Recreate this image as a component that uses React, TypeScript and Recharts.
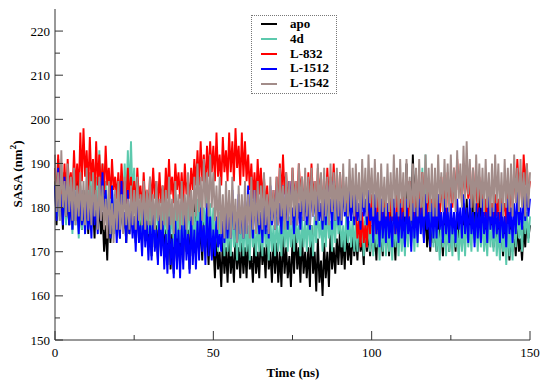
import React from "react";
import { LineChart, Line, XAxis, YAxis } from "recharts";

// SASA (nm^2) sampled every 0.5 ns, 0..150 ns
const apo = [
  186,176,191,178,184,175,188,177,182,176,
  185,175,183,177,187,176,181,175,184,177,
  182,174,186,176,180,173,184,175,181,174,
  179,170,176,168,181,172,178,174,183,175,
  180,173,185,175,179,172,183,174,181,176,
  178,172,182,173,180,171,184,174,179,172,
  177,169,181,171,176,168,180,170,178,169,
  175,167,179,166,174,165,178,168,176,167,
  177,168,180,170,175,166,179,169,181,171,
  178,170,176,168,179,171,175,167,177,169,
  172,164,174,166,170,162,173,165,171,163,
  173,165,170,163,174,166,171,164,172,165,
  171,164,174,166,169,163,173,165,170,164,
  174,167,171,164,175,166,170,163,173,165,
  172,163,170,162,174,165,171,164,169,162,
  173,165,175,166,171,163,174,165,170,164,
  171,162,176,165,170,161,173,163,168,160,
  172,164,170,162,174,166,171,165,173,167,
  175,167,173,166,176,168,172,167,175,169,
  174,168,176,170,173,167,177,170,175,169,
  176,170,174,168,177,171,175,169,178,172,
  176,169,179,171,175,168,178,172,180,173,
  184,175,190,178,186,176,192,180,188,177,
  185,176,181,173,179,171,177,170,178,172,
  176,170,179,172,175,169,178,171,177,170,
  179,172,176,170,180,173,178,171,181,174,
  182,175,179,173,184,176,180,174,183,177,
  180,174,178,172,181,175,177,171,179,173,
  177,171,175,169,178,172,174,168,176,170,
  175,169,177,170,173,168,176,171,178,173,
  176,
];

const d4 = [
  188,178,185,177,190,179,184,176,187,178,
  183,174,186,176,181,173,185,175,182,174,
  184,176,188,178,191,180,187,177,193,181,
  190,179,186,176,183,174,185,175,181,174,
  184,176,187,179,190,181,193,183,195,182,
  189,178,184,175,182,173,185,176,181,174,
  183,174,180,172,184,175,181,173,182,174,
  180,172,183,174,179,171,182,173,180,172,
  181,173,178,171,183,174,180,172,179,171,
  182,174,185,176,180,173,184,175,181,173,
  180,171,177,170,179,172,176,169,178,170,
  177,169,180,171,176,168,179,170,177,169,
  178,170,176,168,179,171,175,169,177,170,
  176,169,179,171,175,168,178,170,176,169,
  178,170,176,169,179,171,177,170,178,171,
  177,170,179,172,176,169,178,171,177,170,
  179,171,176,169,178,172,180,173,177,170,
  178,171,180,173,177,170,179,172,181,174,
  178,171,176,170,179,172,177,171,178,170,
  177,170,179,172,176,169,178,171,177,170,
  176,169,178,171,175,168,177,170,176,169,
  177,170,175,168,178,171,176,169,177,170,
  176,169,178,171,180,172,177,170,179,171,
  184,174,189,176,192,178,186,173,180,171,
  177,170,175,168,178,171,176,169,177,170,
  176,169,178,171,175,168,177,170,176,169,
  178,171,176,170,179,172,177,170,178,171,
  177,170,175,169,178,171,176,170,177,169,
  175,168,177,170,174,167,176,169,175,168,
  178,171,180,173,177,170,182,174,179,172,
  178,
];

const l832 = [
  189,181,192,183,186,180,190,182,191,184,
  188,182,193,184,190,183,197,186,198,187,
  193,184,196,186,191,183,195,185,192,184,
  190,183,194,185,189,182,191,184,187,182,
  188,181,190,183,186,180,189,182,187,181,
  186,180,189,182,185,179,188,181,184,180,
  187,181,189,182,186,180,188,181,185,180,
  189,182,191,183,187,181,190,184,188,182,
  188,181,190,183,186,182,189,184,191,185,
  193,185,195,186,192,184,194,187,195,188,
  194,186,197,187,192,185,196,188,193,186,
  197,188,195,186,198,189,194,185,197,187,
  195,186,192,184,190,182,188,181,191,183,
  189,182,187,180,185,179,182,178,184,179,
  187,180,190,182,192,183,188,181,186,180,
  189,182,186,180,190,183,187,181,185,180,
  188,181,190,182,186,179,189,183,187,180,
  186,180,189,182,187,181,190,183,185,179,
  188,181,186,180,184,178,187,180,183,177,
  180,173,177,171,179,172,176,171,181,174,
  183,176,180,174,185,177,182,175,184,176,
  181,175,184,177,180,174,183,176,182,175,
  185,178,182,176,186,179,183,177,187,180,
  184,178,188,180,183,177,186,179,182,176,
  185,178,183,177,187,180,184,178,188,181,
  186,180,189,182,191,184,187,181,190,183,
  188,182,186,180,189,183,185,179,187,181,
  184,178,182,176,185,179,181,177,183,178,
  182,177,185,179,181,176,184,178,186,180,
  189,182,191,184,188,181,192,185,190,183,
  186,
];

const l1512 = [
  185,177,189,179,183,176,187,178,184,176,
  182,175,185,177,180,174,184,176,181,174,
  183,175,180,173,184,176,181,174,186,177,
  188,178,184,175,182,173,185,176,180,172,
  181,173,186,175,179,172,184,174,180,173,
  178,170,182,172,176,169,180,171,177,168,
  176,168,180,170,175,167,179,169,177,166,
  174,165,178,167,173,164,177,166,175,164,
  176,166,179,168,174,165,178,167,175,166,
  177,168,180,170,176,167,181,169,178,168,
  175,169,178,171,174,170,177,172,180,173,
  181,173,184,175,179,172,183,174,180,173,
  182,174,185,176,180,173,184,175,181,174,
  179,172,183,174,180,173,185,176,182,175,
  184,176,181,174,185,177,182,175,186,178,
  180,174,184,176,181,175,185,177,183,176,
  182,175,186,178,183,176,184,177,181,175,
  183,176,185,178,182,175,186,177,184,176,
  182,176,185,178,181,175,184,177,183,176,
  184,177,181,175,185,178,182,176,184,177,
  180,172,183,174,179,171,182,173,180,172,
  181,173,178,171,182,174,179,172,181,173,
  179,171,182,174,178,170,181,173,180,172,
  182,174,180,172,183,175,179,171,181,173,
  180,173,183,175,179,172,182,174,180,172,
  181,174,179,172,182,175,180,173,183,174,
  180,172,182,174,179,171,181,173,180,172,
  182,174,179,172,183,175,180,173,181,174,
  179,172,181,173,178,171,182,174,180,172,
  181,174,184,176,180,175,183,177,185,178,
  182,
];

const l1542 = [
  192,179,188,177,193,180,186,178,190,179,
  187,177,189,176,185,178,188,177,186,176,
  189,177,185,176,188,178,184,175,187,177,
  185,175,182,173,186,174,181,172,184,175,
  186,175,183,174,187,176,182,175,185,176,
  184,175,187,177,183,176,186,175,184,176,
  187,176,183,175,186,177,182,175,185,176,
  184,175,187,176,182,174,186,177,183,175,
  186,176,183,175,188,177,184,176,187,178,
  190,179,187,177,191,180,188,178,192,180,
  188,177,185,175,187,174,183,173,186,175,
  184,173,187,175,182,172,185,174,183,173,
  186,174,183,173,187,175,184,174,186,176,
  185,175,188,176,183,174,187,177,184,175,
  187,176,189,178,185,175,188,177,186,176,
  189,178,186,176,190,179,187,177,189,178,
  187,176,189,178,186,177,190,179,188,177,
  189,178,187,176,190,179,188,177,189,178,
  188,177,190,179,187,178,191,180,189,178,
  190,179,188,177,191,180,189,178,192,181,
  189,178,191,180,188,177,190,179,187,178,
  190,179,188,178,192,180,189,178,191,180,
  188,178,191,180,187,177,190,179,189,178,
  191,180,188,178,192,181,189,179,190,178,
  189,178,192,181,188,179,191,180,190,179,
  192,181,189,179,193,182,190,180,194,182,
  195,183,191,180,189,179,192,181,190,180,
  189,179,191,180,188,178,190,179,192,181,
  190,179,188,178,191,180,189,179,190,178,
  192,181,189,179,191,180,188,178,190,180,
  188,
];

const series = [
  { key: "apo", name: "apo", color: "#000000", values: apo },
  { key: "d4", name: "4d", color: "#5cc9ad", values: d4 },
  { key: "l832", name: "L-832", color: "#ff0000", values: l832 },
  { key: "l1512", name: "L-1512", color: "#0000ff", values: l1512 },
  { key: "l1542", name: "L-1542", color: "#a28c89", values: l1542 },
];

const xTicks = [0, 25, 50, 75, 100, 125, 150];
const yTicks = [150, 155, 160, 165, 170, 175, 180, 185, 190, 195, 200, 205, 210, 215, 220];

const data = apo.map((_, i) => {
  const row: Record<string, number> = { t: i * 0.5 };
  series.forEach((s) => (row[s.key] = s.values[i]));
  return row;
});

const font = "'Times New Roman', Times, 'Liberation Serif', 'DejaVu Serif', serif";
const axisColor = "#333";

const BottomTick = ({ x, y, payload }: any) => {
  const major = payload.value % 50 === 0;
  return (
    <g>
      <line x1={x} y1={y} x2={x} y2={y - (major ? 9 : 5)} stroke={axisColor} />
      {major && (
        <text x={x} y={y + 17} textAnchor="middle" style={{ fontFamily: font }} fontSize={13} fill="#000">
          {payload.value}
        </text>
      )}
    </g>
  );
};

const TopTick = ({ x, y, payload }: any) => {
  const major = payload.value % 50 === 0;
  return <line x1={x} y1={y} x2={x} y2={y + (major ? 9 : 5)} stroke={axisColor} />;
};

const LeftTick = ({ x, y, payload }: any) => {
  const major = payload.value % 10 === 0;
  return (
    <g>
      <line x1={x} y1={y} x2={x + (major ? 8 : 5)} y2={y} stroke={axisColor} />
      {major && (
        <text x={x - 5} y={y} dy="0.35em" textAnchor="end" style={{ fontFamily: font }} fontSize={13} fill="#000">
          {payload.value}
        </text>
      )}
    </g>
  );
};

const RightTick = ({ x, y, payload }: any) => {
  const major = payload.value % 10 === 0;
  return <line x1={x} y1={y} x2={x - (major ? 9 : 5)} y2={y} stroke={axisColor} />;
};

export default function App() {
  return (
    <div style={{ position: "absolute", left: 0, top: 0, width: 550, height: 384, background: "#fff", fontFamily: font }}>
      <LineChart width={550} height={384} data={data} margin={{ top: 9, right: 20, bottom: 14, left: 8 }}>
        <XAxis
          xAxisId="bottom"
          dataKey="t"
          type="number"
          domain={[0, 150]}
          ticks={xTicks}
          height={30}
          tickSize={0}
          tickMargin={0}
          tickLine={false}
          axisLine={{ stroke: axisColor }}
          tick={<BottomTick />}
          interval={0}
        />
        <XAxis
          xAxisId="top"
          orientation="top"
          dataKey="t"
          type="number"
          domain={[0, 150]}
          ticks={xTicks}
          height={0}
          tickSize={0}
          tickMargin={0}
          tickLine={false}
          axisLine={{ stroke: axisColor }}
          tick={<TopTick />}
          interval={0}
        />
        <YAxis
          yAxisId="left"
          type="number"
          domain={[150, 225]}
          ticks={yTicks}
          width={47}
          tickSize={0}
          tickMargin={0}
          tickLine={false}
          axisLine={{ stroke: axisColor }}
          tick={<LeftTick />}
          interval={0}
          allowDataOverflow
        />
        <YAxis
          yAxisId="right"
          orientation="right"
          type="number"
          domain={[150, 225]}
          ticks={yTicks}
          width={0}
          tickSize={0}
          tickMargin={0}
          tickLine={false}
          axisLine={{ stroke: axisColor }}
          tick={<RightTick />}
          interval={0}
          allowDataOverflow
        />
        {series.map((s) => (
          <Line
            key={s.key}
            xAxisId="bottom"
            yAxisId="left"
            dataKey={s.key}
            name={s.name}
            stroke={s.color}
            strokeWidth={1.9}
            dot={false}
            type="linear"
            isAnimationActive={false}
          />
        ))}
        <text
          x={19}
          y={174}
          transform="rotate(-90 19 174)"
          textAnchor="middle"
          dominantBaseline="middle"
          style={{ fontFamily: font }}
          fontWeight="bold"
          fontSize={13}
        >
          SASA (nm
          <tspan dy={-5} fontSize={9}>2</tspan>
          <tspan dy={5}>)</tspan>
        </text>
        <text x={293} y={377} textAnchor="middle" style={{ fontFamily: font }} fontWeight="bold" fontSize={13}>
          Time (ns)
        </text>
      </LineChart>
      <div
        style={{
          position: "absolute",
          left: 251,
          top: 15,
          width: 84,
          padding: "1px 0 2px 0",
          border: "1px dotted #777",
          background: "#fff",
          fontFamily: font,
          fontWeight: "bold",
          fontSize: 13,
          lineHeight: "14.8px",
        }}
      >
        {series.map((s) => (
          <div key={s.key} style={{ display: "flex", alignItems: "center", height: 14.8 }}>
            <span
              style={{ display: "inline-block", width: 16, height: 2, background: s.color, marginLeft: 9, marginRight: 13 }}
            />
            <span style={{ color: "#000" }}>{s.name}</span>
          </div>
        ))}
      </div>
    </div>
  );
}
